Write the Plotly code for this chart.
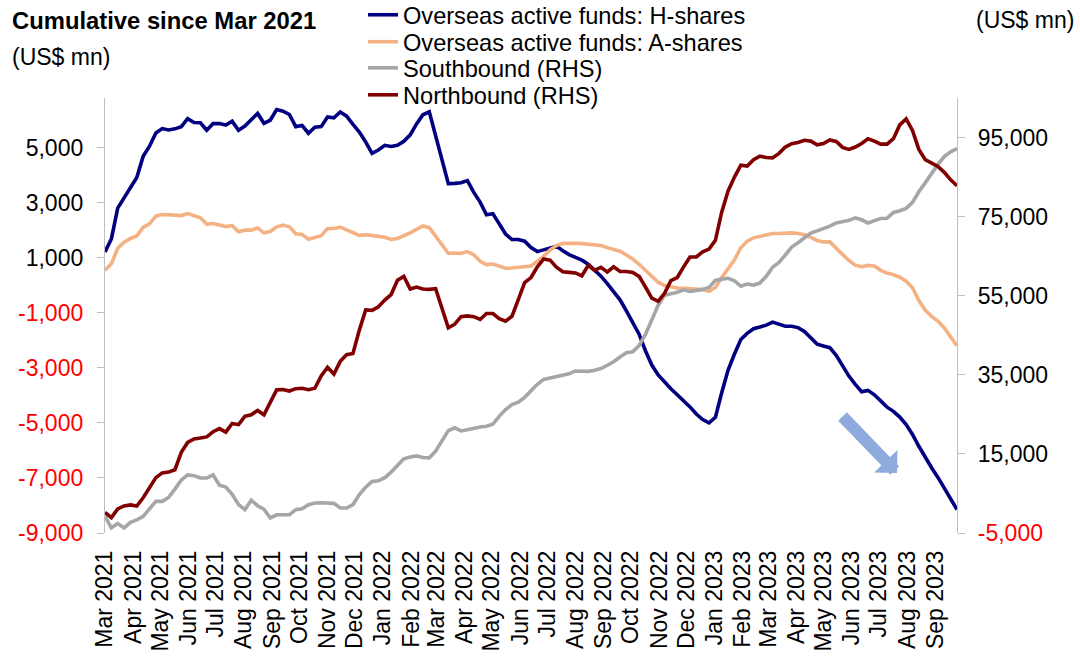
import pandas as pd
import plotly.graph_objects as go

# Weekly observations (Fridays), Mar 2021 - Sep 2023
dates = pd.date_range("2021-03-05", periods=135, freq="7D")

h_shares = [1210, 1680, 2800, 3160, 3500, 3910, 4680, 5050, 5530, 5690,
            5640, 5680, 5760, 6050, 5910, 5900, 5630, 5870, 5870, 5820,
            5960, 5630, 5780, 6010, 6240, 5880, 6000, 6380, 6320, 6200,
            5760, 5800, 5520, 5740, 5760, 6110, 6080, 6290, 6140, 5840,
            5560, 5200, 4790, 4910, 5080, 5040, 5080, 5230, 5460, 5860,
            6190, 6300, 5400, 4500, 3690, 3700, 3720, 3800, 3370, 3020,
            2560, 2600, 2200, 1860, 1660, 1660, 1600, 1370, 1220, 1280,
            1330, 1420, 1250, 1110, 1010, 910, 760, 560, 330, 60,
            -230, -530, -930, -1350, -1780, -2380, -2900, -3260, -3520, -3760,
            -3980, -4190, -4420, -4680, -4880, -5000, -4800, -3900, -3080, -2500,
            -1970, -1750, -1580, -1520, -1450, -1340, -1410, -1490, -1490, -1540,
            -1680, -1900, -2140, -2210, -2270, -2550, -2930, -3300, -3600, -3870,
            -3820, -3980, -4200, -4430, -4580, -4790, -5060, -5420, -5850, -6260,
            -6630, -6980, -7350, -7780, -8150]

a_shares = [545, 780, 1340, 1560, 1700, 1790, 2100, 2230, 2510, 2570,
            2560, 2530, 2530, 2600, 2540, 2450, 2220, 2240, 2190, 2130,
            2170, 1940, 2000, 2000, 2080, 1900, 1950, 2120, 2180, 2120,
            1870, 1840, 1670, 1750, 1800, 2060, 2060, 2110, 2000, 1890,
            1810, 1835, 1815, 1775, 1740, 1660, 1700, 1790, 1900, 2030,
            2150, 2090, 1770, 1430, 1160, 1170, 1150, 1220, 1110, 870,
            750, 770, 680, 615, 625, 645, 660, 700, 870, 1050,
            1280, 1440, 1520, 1535, 1525, 1510, 1495, 1470, 1440, 1365,
            1300, 1235, 1100, 950, 760, 530, 300, 110, -10, -65,
            -100, -115, -121, -121, -160, -220, -80, 280, 620, 920,
            1360, 1600, 1720, 1780, 1840, 1878, 1878, 1890, 1900, 1880,
            1830, 1740, 1620, 1573, 1573, 1340, 1120, 900, 730, 670,
            720, 700, 540, 440, 385, 290, 150, -90, -560, -900,
            -1130, -1300, -1550, -1880, -2200]

southbound = [-800, -3700, -2600, -3700, -2300, -1700, -800, 1000, 3000, 3000,
              4000, 6100, 8400, 9700, 9500, 8900, 8900, 9700, 7100, 6600,
              4800, 2200, 900, 3300, 1900, 1000, -1200, -400, -500, -400,
              900, 1100, 2150, 2600, 2650, 2600, 2500, 1320, 1320, 2200,
              4700, 6600, 8050, 8200, 9000, 10400, 12100, 13750, 14200, 14500,
              14100, 14000, 15700, 18500, 20900, 21600, 20800, 21100, 21550, 21800,
              22000, 22500, 24500, 26200, 27450, 28100, 29300, 31000, 32600, 33850,
              34250, 34500, 34850, 35280, 35980, 35950, 35880, 36150, 36600, 37420,
              38300, 39500, 40560, 40800, 42400, 45200, 49000, 52600, 55100, 55420,
              55900, 56500, 56100, 56350, 56600, 57100, 58900, 59200, 59400, 58800,
              57400, 57950, 57700, 58200, 59900, 62200, 63400, 65300, 67300, 68400,
              69700, 70850, 71400, 71950, 72600, 73400, 73750, 74050, 74700, 74200,
              73400, 73900, 74550, 74600, 76050, 76500, 77100, 78600, 81300, 83550,
              86000, 88200, 90200, 91400, 92200]

northbound = [200, -1100, 1100, 1850, 2100, 1800, 3900, 6600, 9000, 10200,
              10400, 11000, 15400, 17900, 18800, 19000, 19300, 20600, 21400, 20500,
              22700, 22400, 24500, 24900, 26000, 24900, 28000, 31200, 31300, 30900,
              31500, 31600, 31250, 31600, 34700, 36900, 35200, 38400, 40100, 40400,
              46300, 51400, 51300, 52200, 53900, 55300, 58900, 59900, 56700, 57200,
              56700, 56600, 56800, 51800, 46900, 47800, 49700, 49900, 49700, 49000,
              50500, 50500, 49200, 48550, 49800, 54000, 58300, 59600, 62300, 64300,
              64000, 62200, 61050, 60900, 60750, 60000, 62700, 61400, 62200, 61000,
              62300, 61130, 61130, 60900, 59900, 57200, 54400, 53600, 55600, 58800,
              59600, 62300, 64800, 64800, 66100, 66800, 69000, 76200, 81500, 85000,
              88000, 87800, 89400, 90300, 89950, 89850, 91000, 92600, 93450, 93740,
              94300, 94100, 93160, 93500, 94400, 94000, 92500, 92000, 92600, 93500,
              94700, 94100, 93340, 93340, 94700, 98200, 99700, 96800, 92000, 89400,
              88500, 87700, 86200, 84300, 82800]

series_names = ["Overseas active funds: H-shares", "Overseas active funds: A-shares",
                "Southbound (RHS)", "Northbound (RHS)"]
left_ticks = [5000, 3000, 1000, -1000, -3000, -5000, -7000, -9000]
right_ticks = [95000, 75000, 55000, 35000, 15000, -5000]

FONT = "Liberation Sans, Arial, sans-serif"
AXIS_GREY = "#BFBFBF"


def fmt(v):
    s = f"{v:,}"
    if v < 0:
        return f'<span style="color:#FF0000">{s}</span>'
    return s


fig = go.Figure()
specs = [
    (h_shares, "#000080", "y", "legend"),
    (a_shares, "#F4B183", "y", "legend2"),
    (southbound, "#A6A6A6", "y2", "legend3"),
    (northbound, "#800000", "y2", "legend4"),
]
for name, (vals, color, yax, leg) in zip(series_names, specs):
    fig.add_trace(go.Scatter(x=dates, y=vals, mode="lines", name=name,
                             yaxis=yax, legend=leg,
                             line=dict(color=color, width=3.6)))

x_range = [dates[0], dates[-1]]
y_range = [-9000, 6800]

legend_common = dict(x=0.3028, xanchor="left", yanchor="middle",
                     bgcolor="rgba(0,0,0,0)", font=dict(size=23.6),
                     borderwidth=0)

fig.update_layout(
    width=1080, height=662,
    margin=dict(l=105, r=123, t=98, b=129, autoexpand=False),
    paper_bgcolor="white", plot_bgcolor="white",
    font=dict(family=FONT, size=23, color="black"),
    showlegend=True,
    legend=dict(y=1.191, **legend_common),
    legend2=dict(y=1.129, **legend_common),
    legend3=dict(y=1.069, **legend_common),
    legend4=dict(y=1.007, **legend_common),
    xaxis=dict(type="date", range=x_range, tick0=dates[0], dtick="M1",
               tickformat="%b %Y", tickangle=-90, showgrid=False,
               showline=False, ticks="", ticklabelstandoff=12,
               zeroline=False, tickfont=dict(size=23), automargin=False),
    xaxis2=dict(type="date", range=x_range, tick0=dates[0], dtick="M1",
                overlaying="x", anchor="free",
                position=(0 - y_range[0]) / (y_range[1] - y_range[0]),
                showticklabels=False, showgrid=False, showline=True,
                linecolor=AXIS_GREY, linewidth=1.3, ticks="outside",
                ticklen=6, tickcolor=AXIS_GREY, tickwidth=1.3),
    yaxis=dict(range=y_range, tickvals=left_ticks,
               ticktext=[fmt(v) for v in left_ticks],
               showgrid=False, zeroline=False, showline=True,
               linecolor=AXIS_GREY, linewidth=1.3, ticks="outside",
               ticklen=7, tickcolor=AXIS_GREY, ticklabelstandoff=9,
               automargin=False),
    yaxis2=dict(range=[-5000, 105000], tickvals=right_ticks,
                ticktext=[fmt(v) for v in right_ticks],
                overlaying="y", side="right",
                showgrid=False, zeroline=False, showline=True,
                linecolor=AXIS_GREY, linewidth=1.3, ticks="outside",
                ticklen=7, tickcolor=AXIS_GREY, ticklabelstandoff=8,
                automargin=False),
)

fig.add_annotation(text="<b>Cumulative since Mar 2021</b>", xref="paper", yref="paper",
                   x=-0.1115, y=1.179, xanchor="left", yanchor="middle",
                   showarrow=False, font=dict(size=23.8))
fig.add_annotation(text="(US$ mn)", xref="paper", yref="paper",
                   x=-0.1115, y=1.094, xanchor="left", yanchor="middle",
                   showarrow=False, font=dict(size=23))
fig.add_annotation(text="(US$ mn)", xref="paper", yref="paper",
                   x=1.08, y=1.179, xanchor="center", yanchor="middle",
                   showarrow=False, font=dict(size=23))
# Trend arrow
fig.add_annotation(text="", xref="paper", yref="paper",
                   x=0.9296, y=0.138, axref="pixel", ayref="pixel",
                   ax=-56, ay=-58, showarrow=True, arrowhead=1,
                   arrowsize=0.45, arrowwidth=12, arrowcolor="#8FAADC",
                   standoff=0)

fig.write_html("out.html",
               config={"displayModeBar": False},
               post_script="document.body.style.margin='0';document.body.style.padding='0';")
